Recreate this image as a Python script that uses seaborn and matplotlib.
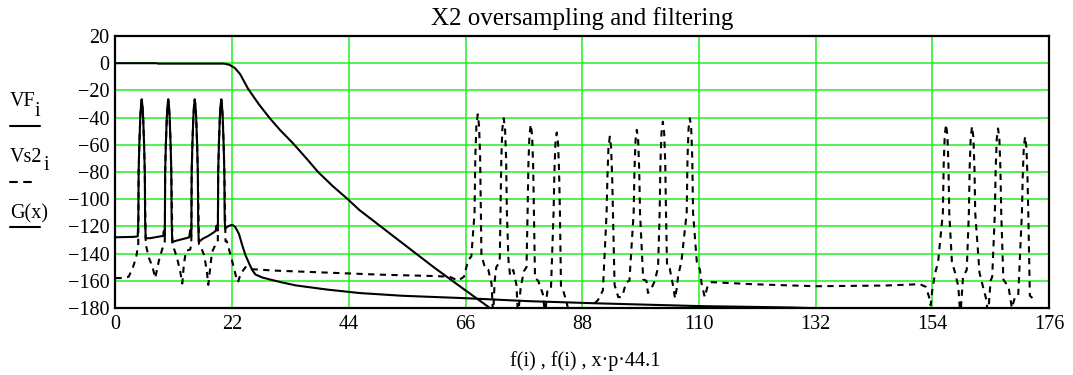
import numpy as np
import pandas as pd
import matplotlib
matplotlib.use("Agg")
import matplotlib.pyplot as plt
import seaborn as sns
from matplotlib.lines import Line2D

# VF_i : filtered spectrum (solid)
vf_x = [0, 3.5, 4.2, 4.31, 4.37, 4.5, 4.68, 4.82, 4.95, 5.08, 5.22, 5.4, 5.53, 5.59, 5.7,
        6.5, 7.5, 8.5, 9.0, 9.12, 9.22,
        9.31, 9.37, 9.5, 9.68, 9.82, 9.95, 10.08, 10.22, 10.4, 10.53, 10.59, 10.7,
        11.5, 12.5, 13.5, 13.9, 14.1, 14.22,
        14.31, 14.37, 14.5, 14.68, 14.82, 14.95, 15.08, 15.22, 15.4, 15.53, 15.59, 15.7,
        16.5, 17.5, 18.5, 18.9, 19.05, 19.22,
        19.31, 19.37, 19.5, 19.68, 19.82, 19.95, 20.08, 20.22, 20.4, 20.53, 20.59, 20.7,
        21.2, 21.7, 22.1, 22.6, 23.3, 23.9, 24.5, 25.2, 25.8, 26.4, 27.7, 29.6, 31.4, 34,
        40, 46, 54, 66, 78, 91, 110, 127, 135, 176]
vf_y = [-128, -127.7, -127.3, -115, -80, -60, -40, -31, -26.5, -31, -40, -60, -80, -115, -128.7,
        -128.7, -128, -127.3, -127, -123.5, -127,
        -127, -80, -60, -40, -31, -26.5, -31, -40, -60, -80, -115, -131.4,
        -130.5, -129.5, -128.5, -128, -123, -127,
        -127, -80, -60, -40, -31, -26.5, -31, -40, -60, -80, -115, -131.4,
        -129, -127, -124.5, -123.3, -119.5, -123,
        -123, -80, -60, -40, -31, -26.5, -31, -40, -60, -80, -115, -121.6,
        -120, -119.2, -119, -120.5, -125.7, -133.8, -141, -147.3, -152.2, -155.4, -157.6, -159.5, -161.2, -163.4,
        -166.5, -169, -171, -172.8, -175, -176.6, -178.6, -179.6, -180.5, -182]

# Vs2_i : X2 oversampled spectrum (dashed)
vs_x = [0, 1.2, 2.5, 3.3, 3.9, 4.3,
        4.37, 4.5, 4.68, 4.82, 4.95, 5.08, 5.22, 5.4, 5.53, 5.7,
        6.3, 7.0, 7.5, 8.2, 8.8, 9.3,
        9.37, 9.5, 9.68, 9.82, 9.95, 10.08, 10.22, 10.4, 10.53, 10.75,
        11.0, 11.6, 12.2, 12.6, 12.9, 13.3, 14.1, 14.3,
        14.37, 14.5, 14.68, 14.82, 14.95, 15.08, 15.22, 15.4, 15.53, 15.75,
        16.0, 16.7, 17.2, 17.5, 18.2, 18.9, 19.3,
        19.37, 19.5, 19.68, 19.82, 19.95, 20.08, 20.22, 20.4, 20.53, 20.75,
        21.0, 21.7, 22.3, 22.8, 23.1, 23.6, 24.5, 25.8, 30, 40, 50, 60, 63, 64.6, 65.7, 66.5, 67.1,
        67.7, 67.85, 68.05, 68.3, 68.55, 68.75, 68.9, 69.0,
        69.7, 70.3, 70.9, 71.2, 71.5, 71.8, 72.45,
        72.6, 72.75, 72.95, 73.2, 73.45, 73.65, 73.8, 74.1,
        74.4, 75.0, 75.6, 75.9, 76.4, 77.0, 77.5,
        77.7, 77.85, 78.05, 78.3, 78.55, 78.75, 78.9, 79.1,
        79.7, 80.6, 81.0, 81.4, 82.1,
        82.6, 82.75, 82.95, 83.2, 83.45, 83.65, 83.8, 84.0,
        84.4, 85.0, 85.6, 89.8, 90.5, 91.0, 91.9,
        92.6, 92.75, 92.95, 93.2, 93.45, 93.65, 93.8, 94.1,
        94.8, 95.4, 95.8, 96.3, 96.9,
        97.7, 97.85, 98.05, 98.3, 98.55, 98.75, 98.9, 99.5,
        100.1, 100.4, 101.0, 101.7, 102.3,
        102.6, 102.75, 102.95, 103.2, 103.45, 103.65, 103.8, 104.0,
        104.5, 105.2, 105.5, 105.8, 106.1, 106.7,
        107.7, 107.85, 108.05, 108.3, 108.55, 108.75, 108.9, 109.6,
        110.2, 110.5, 111.1, 111.7, 112.4, 115, 120, 132, 145, 151.7, 152.8, 153.4, 153.7,
        154.0, 154.5, 155.1,
        156.0, 156.15, 156.35, 156.6, 156.85, 157.05, 157.2, 157.7,
        158.3, 158.9, 159.3, 159.8, 160.5,
        160.9, 161.05, 161.25, 161.5, 161.75, 161.95, 162.1, 162.9,
        163.6, 164.2, 164.5, 165.0, 165.3,
        165.8, 165.95, 166.15, 166.4, 166.65, 166.85, 167.0, 167.4,
        168.4, 169.0, 169.6, 170.2,
        170.9, 171.05, 171.25, 171.5, 171.75, 171.95, 172.1, 172.4,
        173.0]
vs_y = [-158, -158, -157, -150, -143, -133,
        -80, -60, -40, -31, -27, -31, -40, -60, -80, -133,
        -143, -150, -158, -145, -137, -131,
        -80, -60, -40, -31, -27, -31, -40, -60, -80, -133,
        -136, -143, -153, -162, -148, -138, -137, -133,
        -80, -60, -40, -31, -27, -31, -40, -60, -80, -133,
        -134, -141, -152, -163, -139, -133, -131,
        -80, -60, -40, -31, -27, -31, -40, -60, -80, -131,
        -131, -141, -150, -158, -161, -155, -150, -151.5, -152.5, -154, -155.5, -156.5, -157, -160, -157, -145, -142,
        -110, -68, -46, -37.6, -46, -68, -110, -141,
        -151, -152, -162, -186, -160, -150, -146,
        -110, -70, -48, -40.5, -48, -70, -110, -145,
        -156, -152, -163, -186, -165, -153, -150,
        -110, -75, -53, -45, -53, -75, -110, -158,
        -160, -170, -186, -168, -167,
        -110, -81, -59, -51, -59, -81, -110, -165,
        -167, -175, -185, -185, -176, -174, -167,
        -110, -84, -62, -54, -62, -84, -110, -163,
        -172, -172, -168, -161, -160,
        -110, -79, -57, -49, -57, -79, -110, -159,
        -160, -169, -166, -160, -150,
        -110, -73, -51, -43, -51, -73, -110, -150,
        -151, -165, -173, -166, -156, -146,
        -110, -70, -48, -40.5, -48, -70, -110, -146,
        -152, -162, -172, -163, -161, -161.5, -162.5, -164, -163.5, -162.5, -164.5, -172, -178,
        -167, -155, -146,
        -110, -75, -53, -45, -53, -75, -110, -146,
        -154, -164, -186, -157, -152,
        -110, -76.5, -54.5, -46.5, -54.5, -76.5, -110, -154,
        -165, -174, -186, -160, -157,
        -110, -78, -56, -48, -56, -78, -110, -159,
        -165, -180, -172, -171,
        -110, -84, -62, -54, -62, -84, -110, -171,
        -173]

# G(x) : filter response (solid)
g_x = [0, 7.8, 8.0, 20.5, 21.5, 22.5, 23.5, 25, 27, 29, 31, 33.5, 36, 38.2, 41, 43.8,
       46, 50, 55, 60, 65.8, 70.6, 72]
g_y = [0, 0, -0.3, -0.3, -1.2, -3.5, -8, -18.8, -30, -40, -49, -59, -70, -80, -90.5, -100,
       -108, -120, -135, -150, -166.5, -180, -184]

x_ticks = list(range(0, 177, 22))
y_ticks = list(range(-180, 21, 20))

sns.set_theme(style="white")
plt.rcParams['font.family'] = ['Liberation Serif', 'DejaVu Serif']
plt.rcParams['text.color'] = 'black'
plt.rcParams['xtick.color'] = 'black'
plt.rcParams['ytick.color'] = 'black'

fig, ax = plt.subplots(figsize=(10.73, 3.75), dpi=100)
fig.subplots_adjust(left=0.1076, right=0.9776, bottom=0.1787, top=0.904)

vs_df = pd.DataFrame({'f': vs_x, 'dB': vs_y})
vf_df = pd.DataFrame({'f': vf_x, 'dB': vf_y})
g_df = pd.DataFrame({'f': g_x, 'dB': g_y})

sns.lineplot(data=vs_df, x='f', y='dB', ax=ax, color='black', lw=1.5,
             linestyle=(0, (3, 2.6)), sort=False, estimator=None, zorder=2)
sns.lineplot(data=vf_df, x='f', y='dB', ax=ax, color='black', lw=1.5,
             sort=False, estimator=None, zorder=3)
sns.lineplot(data=g_df, x='f', y='dB', ax=ax, color='black', lw=1.5,
             sort=False, estimator=None, zorder=3)

ax.set_xlim(0, 176)
ax.set_ylim(-180, 20)
ax.set_xticks(x_ticks)
ax.set_yticks(y_ticks)
ax.grid(True, color='#22ee22', lw=1.1)
ax.set_axisbelow(True)
ax.tick_params(axis='both', length=0, labelsize=14.5, colors='black')
ax.tick_params(axis='y', pad=4.5)
ax.tick_params(axis='x', pad=5)
for s in ax.spines.values():
    s.set_color('black')
    s.set_linewidth(1.6)
ax.set_xlabel('')
ax.set_ylabel('')
ax.set_title('X2 oversampling and filtering', fontsize=18, pad=8, color='black')

# Mathcad-style trace legend on the left
W, H = 1073, 375
def fy(p):
    return 1 - p / H

fig.text(10 / W, fy(106), 'VF', fontsize=14.5, va='baseline')
fig.text(35 / W, fy(115.5), 'i', fontsize=14.5, va='baseline')
fig.add_artist(Line2D([9.5 / W, 39.5 / W], [fy(126), fy(126)], color='black', lw=1.5))
fig.text(10 / W, fy(161.5), 'Vs2', fontsize=14.5, va='baseline')
fig.text(43.5 / W, fy(170.5), 'i', fontsize=14.5, va='baseline')
fig.add_artist(Line2D([9.5 / W, 16.5 / W], [fy(182), fy(182)], color='black', lw=1.5))
fig.add_artist(Line2D([23.5 / W, 30.5 / W], [fy(182), fy(182)], color='black', lw=1.5))
fig.text(10 / W, fy(218), 'G(x)', fontsize=14.5, va='baseline')
fig.add_artist(Line2D([10 / W, 39.5 / W], [fy(226.5), fy(226.5)], color='black', lw=1.5))

fig.text(585 / W, fy(366), 'f(i) , f(i) , x·p·44.1', fontsize=14.5, ha='center', va='baseline')

fig.savefig('out.png', dpi=100)
